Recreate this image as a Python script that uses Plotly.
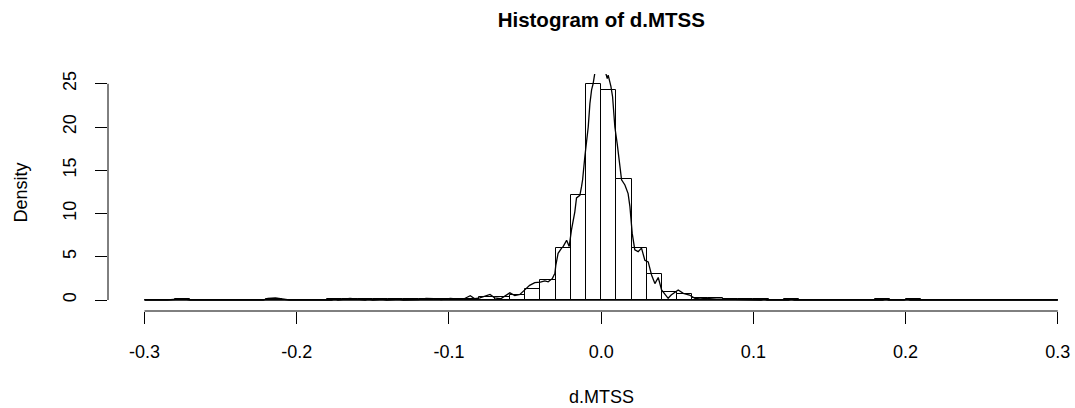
import plotly.graph_objects as go

# Histogram bins (left edges, width 0.01) and densities
bin_left = [round(-0.30 + 0.01 * i, 2) for i in range(60)]
bin_density = [
    0, 0, 0.07, 0, 0, 0, 0, 0, 0.13, 0,      # -0.30 .. -0.21
    0, 0, 0.07, 0.13, 0.07, 0.07, 0.07, 0.07, 0.13, 0.07,  # -0.20 .. -0.11
    0.07, 0.13, 0.3, 0.4, 0.58, 1.3, 2.3, 6.0, 12.1, 25.0,  # -0.10 .. -0.01
    24.3, 14.0, 6.0, 3.0, 0.95, 0.7, 0.25, 0.2, 0.07, 0.07,  # 0.00 .. 0.09
    0.07, 0, 0.07, 0, 0, 0, 0, 0, 0.07, 0,  # 0.10 .. 0.19
    0.07, 0, 0, 0, 0, 0, 0, 0, 0, 0,        # 0.20 .. 0.29
]
bin_width = 0.01

# Kernel density line
dens_x = [-0.300, -0.285, -0.2745, -0.272, -0.270, -0.222, -0.219, -0.214, -0.210, -0.205,
          -0.177, -0.175, -0.173, -0.170, -0.165, -0.160, -0.155, -0.153, -0.150, -0.144,
          -0.141, -0.133, -0.130, -0.120, -0.115, -0.110, -0.105, -0.099, -0.094, -0.090,
          -0.086, -0.083, -0.0797, -0.073, -0.070, -0.066, -0.063, -0.060, -0.0567, -0.0534,
          -0.050, -0.047, -0.0436, -0.040, -0.037, -0.0348, -0.032, -0.0304, -0.0298, -0.0283,
          -0.026, -0.0249, -0.0227, -0.021, -0.0195, -0.0173, -0.0162, -0.014, -0.0129, -0.0122,
          -0.0107, -0.0096, -0.0085, -0.0074, -0.0063, -0.0053, -0.0041, -0.002, 0.001, 0.0029,
          0.004, 0.0046, 0.0057, 0.0064, 0.0075, 0.009, 0.0105, 0.0123, 0.0134, 0.0156,
          0.0177, 0.0189, 0.0204, 0.0221, 0.0243, 0.0265, 0.0287, 0.0309, 0.0331, 0.0353,
          0.0375, 0.0397, 0.042, 0.044, 0.046, 0.0506, 0.054, 0.058, 0.0616, 0.065,
          0.069, 0.0758, 0.082, 0.090, 0.100, 0.105, 0.107, 0.109, 0.123, 0.125,
          0.127, 0.185, 0.187, 0.189, 0.199, 0.201, 0.203, 0.300]
dens_y = [0, 0, 0.15, 0.1, 0, 0, 0.2, 0.25, 0.1, 0,
          0, 0.15, 0, 0.1, 0.2, 0.1, 0, 0.12, 0, 0.1,
          0, 0.1, 0, 0.05, 0.2, 0.15, 0.05, 0.2, 0.1, 0.15,
          0.5, 0.15, 0.25, 0.64, 0.25, 0.15, 0.44, 0.83, 0.52, 0.64,
          1.2, 1.7, 2.0, 2.06, 2.2, 2.1, 2.5, 3.1, 4.0, 5.4,
          6.0, 6.2, 6.9, 6.2, 8.1, 10.2, 11.8, 12.1, 13.1, 13.9,
          16.6, 18.1, 20.0, 22.7, 24.3, 25.0, 26.3, 27.5, 27.0, 26.3,
          25.6, 26.0, 25.2, 24.7, 23.5, 20.0, 18.1, 15.8, 13.9, 13.3,
          12.3, 10.8, 7.7, 5.8, 5.6, 6.0, 4.6, 4.4, 2.9, 1.9,
          2.6, 1.16, 0.58, 0.2, 0.58, 1.16, 0.77, 0.58, 0.2, 0.12,
          0.2, 0.1, 0.1, 0.05, 0, 0, 0.12, 0, 0, 0.1,
          0, 0, 0.12, 0, 0, 0.12, 0, 0]

x_ticks = [-0.3, -0.2, -0.1, 0.0, 0.1, 0.2, 0.3]
x_tick_labels = ["-0.3", "-0.2", "-0.1", "0.0", "0.1", "0.2", "0.3"]
y_ticks = [0, 5, 10, 15, 20, 25]
y_tick_labels = ["0", "5", "10", "15", "20", "25"]

FONT = "Liberation Sans, Arial, sans-serif"

fig = go.Figure()
fig.add_trace(go.Bar(
    x=[b + bin_width / 2 for b in bin_left],
    y=bin_density,
    width=bin_width,
    marker=dict(color="white", line=dict(color="black", width=1)),
    hoverinfo="x+y",
))
# baseline over the full break range
fig.add_trace(go.Scatter(
    x=[bin_left[0], bin_left[-1] + bin_width], y=[0, 0],
    mode="lines", line=dict(color="black", width=1.3), hoverinfo="skip",
))
fig.add_trace(go.Scatter(
    x=dens_x, y=dens_y, mode="lines",
    line=dict(color="black", width=1.3),
))

fig.update_layout(
    width=1075, height=408,
    margin=dict(l=108, r=0, t=74, b=97, autoexpand=False),
    paper_bgcolor="white", plot_bgcolor="white",
    showlegend=False, bargap=0,
    font=dict(family=FONT, size=18, color="black"),
    title=dict(text="<b>Histogram of d.MTSS</b>", x=(601.3 / 1075), xanchor="center",
               y=1 - 20 / 408, yanchor="middle", yref="container",
               font=dict(family=FONT, size=20.5, color="black")),
    xaxis=dict(range=[-0.324, 0.3113], showline=False, showgrid=False, zeroline=False,
               tickmode="array", tickvals=x_ticks, ticktext=x_tick_labels,
               ticks="outside", ticklen=12, tickwidth=1, tickcolor="black",
               ticklabelstandoff=12, tickfont=dict(size=18)),
    yaxis=dict(range=[-1.27, 26.13], showline=False, showgrid=False, zeroline=False,
               tickmode="array", tickvals=y_ticks, ticktext=y_tick_labels,
               ticks="outside", ticklen=12, tickwidth=1, tickcolor="black",
               tickangle=-90, ticklabelstandoff=12, tickfont=dict(size=18)),
    shapes=[
        dict(type="line", xref="x", yref="paper", x0=x_ticks[0], x1=x_ticks[-1], y0=0, y1=0,
             line=dict(color="black", width=1)),
        dict(type="line", xref="paper", yref="y", x0=0, x1=0, y0=y_ticks[0], y1=y_ticks[-1],
             line=dict(color="black", width=1)),
    ],
    annotations=[
        dict(text="d.MTSS", xref="paper", yref="paper", x=(601.3 - 108) / 967,
             y=(311 - 397.5) / 237, xanchor="center", yanchor="middle", showarrow=False,
             font=dict(size=18)),
        dict(text="Density", xref="paper", yref="paper", x=(20 - 108) / 967,
             y=0.5, xanchor="center", yanchor="middle", textangle=-90, showarrow=False,
             font=dict(size=18)),
    ],
)

fig.write_html("out.html", config={"displayModeBar": False},
               post_script="document.body.style.margin='0px';document.body.style.overflow='hidden';")
